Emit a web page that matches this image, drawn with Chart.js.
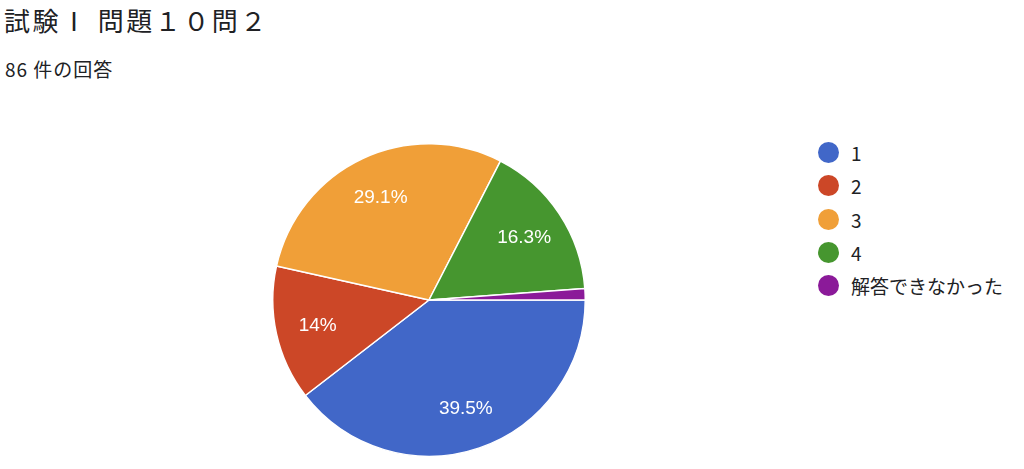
<!DOCTYPE html>
<html>
<head>
<meta charset="utf-8">
<script src="https://cdn.jsdelivr.net/npm/chart.js@4"></script>
<style>
  html, body { margin:0; padding:0; background:#fff; width:1024px; height:469px; overflow:hidden; }
  #title { position:absolute; left:4px; top:1px; font-family:"Noto Sans CJK JP","Noto Sans",sans-serif; font-size:26px; color:#202124; white-space:nowrap; letter-spacing:2.5px; }
  #sub { position:absolute; left:5px; top:55px; font-family:"Noto Sans CJK JP","Noto Sans",sans-serif; font-size:19px; color:#202124; white-space:nowrap; letter-spacing:1px; }
  #wrap { position:absolute; left:271px; top:142px; width:316px; height:316px; }
  #legend { position:absolute; left:818px; top:136px; font-family:"Noto Sans CJK JP","Noto Sans",sans-serif; font-size:19px; color:#202124; }
  .row { height:33.3px; display:flex; align-items:center; white-space:nowrap; }
  .dot { width:21px; height:21px; border-radius:50%; margin-right:12px; flex:none; }
</style>
</head>
<body>
<div id="title">試験Ⅰ 問題１０問２</div>
<div id="sub">86 件の回答</div>
<div id="wrap"><canvas id="c" width="316" height="316"></canvas></div>
<div id="legend"></div>
<script>
const categories = ["1", "2", "3", "4", "解答できなかった"];
const counts = [34, 12, 25, 14, 1];
const colors = ["#4167c8", "#cc4727", "#f09f38", "#46962f", "#8b1a99"];
const totalResponses = 86;

const leg = document.getElementById('legend');
categories.forEach((c, i) => {
  const r = document.createElement('div'); r.className = 'row';
  const d = document.createElement('span'); d.className = 'dot'; d.style.background = colors[i];
  const t = document.createElement('span'); t.textContent = c;
  r.appendChild(d); r.appendChild(t); leg.appendChild(r);
});

const labelPlugin = {
  id: 'sliceLabels',
  afterDatasetsDraw(chart) {
    const ctx = chart.ctx;
    const meta = chart.getDatasetMeta(0);
    const data = chart.data.datasets[0].data;
    const total = data.reduce((a, b) => a + b, 0);
    ctx.save();
    ctx.fillStyle = '#fff';
    ctx.font = '19px "Liberation Sans", Arial, sans-serif';
    ctx.textAlign = 'center';
    ctx.textBaseline = 'middle';
    meta.data.forEach((arc, i) => {
      const pct = data[i] / total * 100;
      if (pct < 5) return;
      const p = arc.getProps(['x','y','startAngle','endAngle','outerRadius'], true);
      const mid = (p.startAngle + p.endAngle) / 2;
      const rr = p.outerRadius * 0.73;
      const txt = (Math.round(pct * 10) / 10) + '%';
      ctx.fillText(txt, p.x + Math.cos(mid) * rr, p.y + Math.sin(mid) * rr + 1);
    });
    ctx.restore();
  }
};

new Chart(document.getElementById('c'), {
  type: 'pie',
  data: {
    labels: categories,
    datasets: [{ data: counts, backgroundColor: colors, borderColor: '#ffffff', borderWidth: 1.5 }]
  },
  options: {
    responsive: false,
    animation: false,
    rotation: 90,
    layout: { padding: 1 },
    plugins: { legend: { display: false }, tooltip: { enabled: false } }
  },
  plugins: [labelPlugin]
});
</script>
</body>
</html>
